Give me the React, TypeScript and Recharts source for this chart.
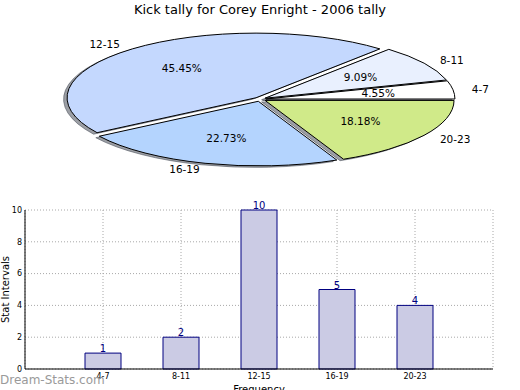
import { PieChart, Pie, Cell, BarChart, Bar, XAxis, YAxis, CartesianGrid, LabelList } from 'recharts'

const intervals = ['4-7', '8-11', '12-15', '16-19', '20-23']
const kicks = [1, 2, 10, 5, 4]
const sliceColors = ['#ffffff', '#e9f0fe', '#c4d8fe', '#b4d4fe', '#d0ea89']
const yTicks = [0, 2, 4, 6, 8, 10]

const data = intervals.map((name, i) => ({ name, kicks: kicks[i] }))

// the pie is squashed into an ellipse, like the original
const KY = 0.342
const EXPLODE = 6
const RAD = Math.PI / 180

function wedge(p: any, dx: number, dy: number) {
  const { cx, cy, outerRadius, startAngle, endAngle, midAngle } = p
  const rx = outerRadius
  const ry = outerRadius * KY
  const x0 = cx + EXPLODE * Math.cos(midAngle * RAD) + dx
  const y0 = cy - EXPLODE * KY * Math.sin(midAngle * RAD) + dy
  const x1 = x0 + rx * Math.cos(startAngle * RAD)
  const y1 = y0 - ry * Math.sin(startAngle * RAD)
  const x2 = x0 + rx * Math.cos(endAngle * RAD)
  const y2 = y0 - ry * Math.sin(endAngle * RAD)
  const large = endAngle - startAngle > 180 ? 1 : 0
  return `M${x0},${y0} L${x1},${y1} A${rx},${ry} 0 ${large} 0 ${x2},${y2} Z`
}

const SliceShape = (p: any) => (
  <path d={wedge(p, 0, 0)} fill={p.fill} stroke="#000" strokeWidth={1} strokeLinejoin="round" />
)

const ShadowShape = (p: any) => (
  <path d={wedge(p, -3.5, 1.5)} fill="#3a3f4c" stroke="#3a3f4c" fillOpacity={0.5} strokeOpacity={0.5} />
)

const renderLabel = (p: any) => {
  const { cx, cy, outerRadius, midAngle, percent, name } = p
  const c = Math.cos(midAngle * RAD)
  const s = Math.sin(midAngle * RAD)
  const x0 = cx + EXPLODE * c
  const y0 = cy - EXPLODE * KY * s
  const lx = x0 + 1.1 * outerRadius * c
  const ly = y0 - 1.1 * outerRadius * KY * s
  const px = x0 + 0.6 * outerRadius * c
  const py = y0 - 0.6 * outerRadius * KY * s
  return (
    <g>
      <text x={lx} y={ly} textAnchor={c > 0 ? 'start' : 'end'} dominantBaseline="central" fontSize={10.5} fill="#000">
        {name}
      </text>
      <text x={px} y={py} textAnchor="middle" dominantBaseline="central" fontSize={10.5} fill="#000">
        {(percent * 100).toFixed(2)}%
      </text>
    </g>
  )
}

export default function App() {
  return (
    <div style={{ position: 'absolute', left: 0, top: 0, width: 520, height: 390, background: '#fff', fontFamily: '"DejaVu Sans", sans-serif' }}>
      <div style={{ position: 'absolute', top: 2, left: 0, width: 520, textAlign: 'center', fontSize: 13, lineHeight: '15px' }}>
        Kick tally for Corey Enright - 2006 tally
      </div>
      <div style={{ position: 'absolute', top: 0, left: 0 }}>
        <PieChart width={520} height={190} margin={{ top: 0, right: 0, bottom: 0, left: 0 }}>
          <Pie
            data={data}
            dataKey="kicks"
            nameKey="name"
            cx={260}
            cy={99.3}
            outerRadius={189}
            startAngle={0}
            endAngle={360}
            shape={ShadowShape}
            label={false}
            labelLine={false}
            isAnimationActive={false}
          />
          <Pie
            data={data}
            dataKey="kicks"
            nameKey="name"
            cx={260}
            cy={99.3}
            outerRadius={189}
            startAngle={0}
            endAngle={360}
            shape={SliceShape}
            label={renderLabel}
            labelLine={false}
            isAnimationActive={false}
          >
            {data.map((d, i) => (
              <Cell key={d.name} fill={sliceColors[i]} />
            ))}
          </Pie>
        </PieChart>
      </div>
      <div style={{ position: 'absolute', top: 0, left: 0 }}>
        <BarChart width={520} height={390} data={data} margin={{ top: 210, right: 27, bottom: 0, left: 0 }}>
          <CartesianGrid stroke="#a8a8a8" strokeDasharray="1 2" />
          <XAxis
            dataKey="name"
            padding={{ left: 39, right: 39 }}
            height={21}
            tickSize={0}
            tickMargin={4}
            tick={{ fontSize: 8, fill: '#000' }}
            axisLine={{ stroke: '#000' }}
            label={{ value: 'Frequency', position: 'insideBottom', offset: -3, fontSize: 10, fill: '#000' }}
          />
          <XAxis xAxisId="top" dataKey="name" orientation="top" height={0} tick={false} tickLine={false} axisLine={{ stroke: '#000' }} />
          <YAxis
            domain={[0, 10]}
            ticks={yTicks}
            width={25}
            tickSize={0}
            tickMargin={3}
            tick={{ fontSize: 8, fill: '#000' }}
            axisLine={{ stroke: '#000' }}
            label={{ value: 'Stat Intervals', angle: -90, position: 'insideLeft', offset: 5, fontSize: 10, fill: '#000', style: { textAnchor: 'middle' } }}
          />
          <YAxis yAxisId="right" orientation="right" domain={[0, 10]} width={0} tick={false} tickLine={false} axisLine={{ stroke: '#000' }} />
          <Bar dataKey="kicks" barSize={36} fill="#cbcbe4" stroke="#000080" strokeWidth={1} isAnimationActive={false}>
            <LabelList dataKey="kicks" position="top" offset={1} fontSize={10} fill="#000080" />
          </Bar>
        </BarChart>
      </div>
      <div style={{ position: 'absolute', left: 0, top: 373, fontSize: 12, color: '#9a9a9a', lineHeight: '15px' }}>Dream-Stats.com</div>
    </div>
  )
}
